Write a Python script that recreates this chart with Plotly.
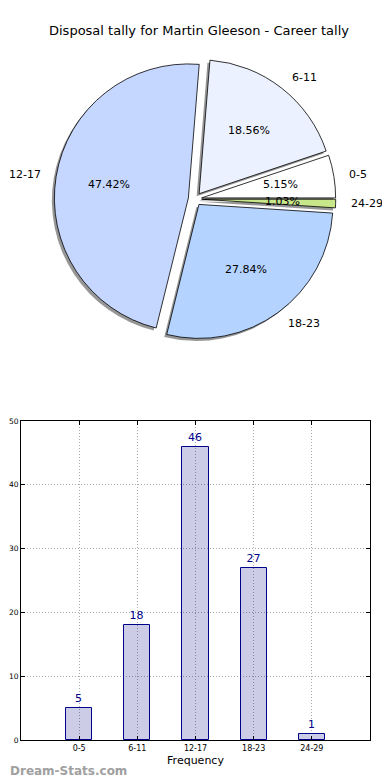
import math
import plotly.graph_objects as go

# ---- data ----
categories = ["0-5", "6-11", "12-17", "18-23", "24-29"]
values = [5, 18, 46, 27, 1]
pie_colors = ["#ffffff", "#ebf1ff", "#c5d7ff", "#b4d3ff", "#c8e68a"]
title_text = "Disposal tally for Martin Gleeson - Career tally"
y_ticks = [0, 10, 20, 30, 40, 50]

# page body has an 8px margin: the figure is drawn from (8, 8)
OFF = 8
W, H = 390 - OFF, 780 - OFF
FONT = "DejaVu Sans"


def fx(px):
    return (px - OFF) / W


def fy(py):
    return 1 - (py - OFF) / H


# pie geometry (reference pixels)
cx, cy, r = 195.0, 199.0, 134.0
pull = 0.05
size = 2 * r * (1 + pull)
total = sum(values)
rot = 90 - values[0] / total * 360


def px_dom(x0, y0, s):
    return dict(x=[fx(x0 - s / 2), fx(x0 + s / 2)],
                y=[fy(y0 + s / 2), fy(y0 - s / 2)])


fig = go.Figure()

# shadow pie
fig.add_trace(go.Pie(
    labels=categories, values=values, sort=False, direction="counterclockwise",
    rotation=rot, pull=[pull] * len(values),
    marker=dict(colors=["rgba(80,80,80,0.6)"] * len(values), line=dict(width=0)),
    textinfo="none", hoverinfo="skip", showlegend=False,
    domain=px_dom(cx - 2.5, cy + 2.5, size),
))

# main pie
fig.add_trace(go.Pie(
    labels=categories, values=values, sort=False, direction="counterclockwise",
    rotation=rot, pull=[pull] * len(values),
    marker=dict(colors=pie_colors, line=dict(color="black", width=0.8)),
    textinfo="none", showlegend=False,
    domain=px_dom(cx, cy, size),
))

annotations = []
cum = 0
for lab, v in zip(categories, values):
    t1 = cum / total * 360
    cum += v
    t2 = cum / total * 360
    mid = math.radians((t1 + t2) / 2)
    ex = cx + pull * r * math.cos(mid)
    ey = cy - pull * r * math.sin(mid)
    annotations.append(dict(
        x=fx(ex + 0.6 * r * math.cos(mid)), y=fy(ey - 0.6 * r * math.sin(mid)),
        xref="paper", yref="paper", text=f"{v / total * 100:.2f}%", showarrow=False,
        xanchor="center", yanchor="middle", font=dict(family=FONT, size=11, color="black")))
    c = math.cos(mid)
    annotations.append(dict(
        x=fx(ex + 1.1 * r * c), y=fy(ey - 1.1 * r * math.sin(mid)),
        xref="paper", yref="paper", text=lab, showarrow=False,
        xanchor="left" if c > 0 else "right", yanchor="middle",
        font=dict(family=FONT, size=11, color="black")))

# bar chart
fig.add_trace(go.Bar(
    x=list(range(len(categories))), y=values, width=0.45,
    marker=dict(color="rgba(0,0,128,0.2)", line=dict(color="#00008b", width=1)),
    text=[str(v) for v in values], textposition="outside", cliponaxis=False,
    textfont=dict(family=FONT, size=11, color="#00008b"),
    showlegend=False, xaxis="x", yaxis="y",
))

annotations.append(dict(
    x=fx(OFF), y=fy(771), xref="paper", yref="paper", text="<b>Dream-Stats.com</b>",
    showarrow=False, xanchor="left", yanchor="middle",
    font=dict(family=FONT, size=12, color="#a0a0a0")))

axis_common = dict(showline=True, linecolor="black", linewidth=1, mirror="allticks",
                   ticks="inside", ticklen=4, tickcolor="black",
                   showgrid=True, gridcolor="#a8a8a8", griddash="1px,2px", gridwidth=1,
                   zeroline=False, automargin=False)

fig.update_layout(
    width=W, height=H, margin=dict(l=0, r=0, t=0, b=0),
    paper_bgcolor="white", plot_bgcolor="white",
    title=dict(text=title_text, x=0.5, xanchor="center", y=fy(30), yanchor="middle",
               font=dict(family=FONT, size=13, color="black")),
    xaxis=dict(domain=[fx(21), fx(370)], range=[-1, 5],
               tickvals=list(range(len(categories))), ticktext=categories,
               tickfont=dict(family=FONT, size=8, color="black"),
               title=dict(text="Frequency", font=dict(family=FONT, size=11, color="black"),
                          standoff=4),
               **axis_common),
    yaxis=dict(domain=[fy(740), fy(421)], range=[0, 50], tickvals=y_ticks,
               tickfont=dict(family=FONT, size=7.5, color="black"),
               ticklabelstandoff=0,
               **axis_common),
    annotations=annotations,
    bargap=0,
)

fig.write_html("out.html")
